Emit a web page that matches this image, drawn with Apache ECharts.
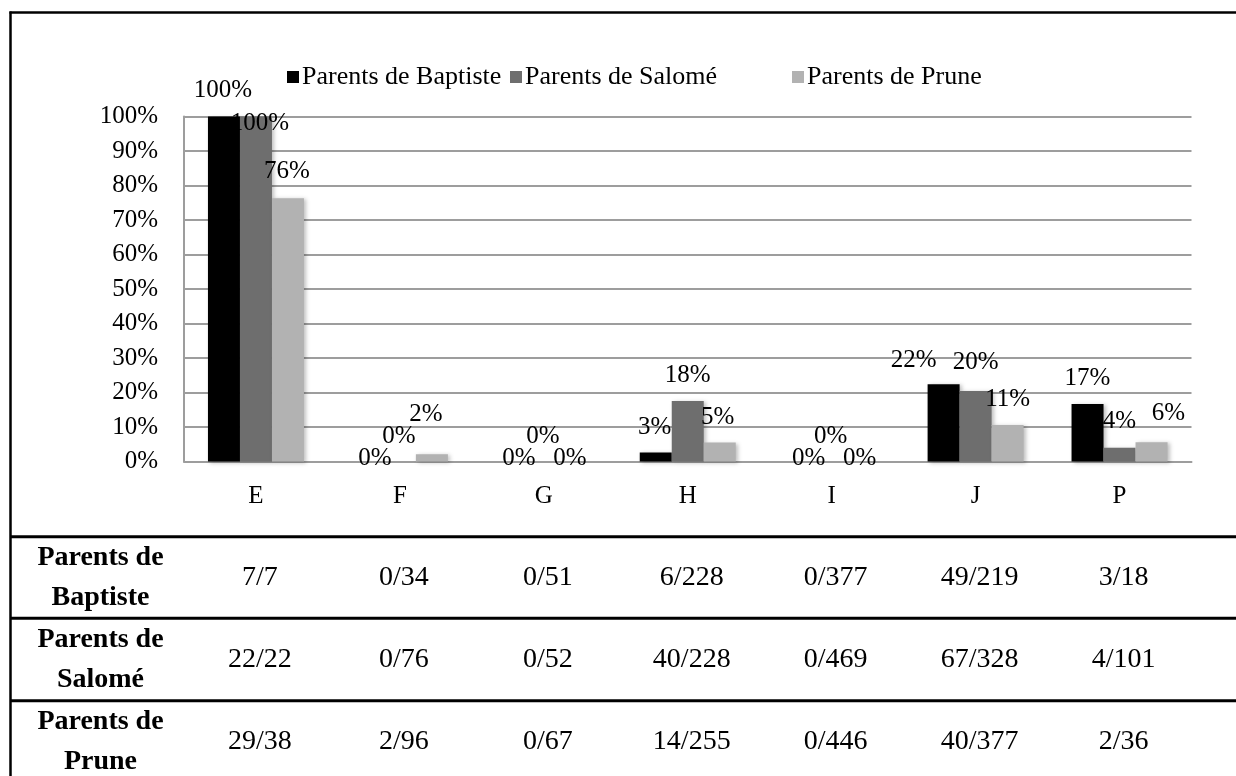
<!DOCTYPE html>
<html><head><meta charset="utf-8">
<script src="https://cdn.jsdelivr.net/npm/echarts@6/dist/echarts.min.js"></script>
<style>html,body{margin:0;padding:0;background:#fff}#c{width:1236px;height:776px}</style>
</head><body><div id="c"></div>
<script>
// ---- data ----
const categories = ['E', 'F', 'G', 'H', 'I', 'J', 'P'];
const seriesNames = ['Parents de Baptiste', 'Parents de Salomé', 'Parents de Prune'];
const baptiste = [100, 0, 0, 2.63, 0, 22.37, 16.67];
const salome = [100, 0, 0, 17.54, 0, 20.43, 3.96];
const prune = [76.32, 2.08, 0, 5.49, 0, 10.61, 5.56];
const rowHeaders = ['Parents de\nBaptiste', 'Parents de\nSalomé', 'Parents de\nPrune'];
const tableBaptiste = ['7/7', '0/34', '0/51', '6/228', '0/377', '49/219', '3/18'];
const tableSalome = ['22/22', '0/76', '0/52', '40/228', '0/469', '67/328', '4/101'];
const tablePrune = ['29/38', '2/96', '0/67', '14/255', '0/446', '40/377', '2/36'];

// ---- styling ----
const FONT = '"Liberation Serif", "Times New Roman", serif';
const colors = ['#000000', '#6e6e6e', '#b2b2b2'];
const labelOffsets = [
  [[-1, -1], [7, 22], [7, 22], [-1, 0], [9, 22], [-30, 1], [0, -1]],
  [[4, 32], [-1, 0], [-1, 0], [0, -1], [-1, 0], [0, -4], [0, -1]],
  [[-1, -2], [-6, -15], [-6, 22], [-2, 0], [-4, 22], [0, 0], [17, -4]]
];
const legendLeft = [287, 510, 792];
const seriesData = [baptiste, salome, prune];
const tableRows = [tableBaptiste, tableSalome, tablePrune];

const chart = echarts.init(document.getElementById('c'), null, { renderer: 'canvas' });

const series = seriesData.map((d, si) => ({
  name: seriesNames[si],
  type: 'bar',
  barWidth: 32,
  barGap: '0%',
  itemStyle: { color: colors[si], shadowBlur: 4, shadowColor: 'rgba(0,0,0,0.25)', shadowOffsetX: 2, shadowOffsetY: 1 },
  label: {
    show: true, position: 'top', distance: 12.5,
    fontFamily: FONT, fontSize: 25, lineHeight: 25, color: '#000',
    formatter: p => Math.round(p.value) + '%'
  },
  data: d.map((v, ci) => ({ value: v, label: { offset: labelOffsets[si][ci] } }))
}));

chart.setOption({
  animation: false,
  backgroundColor: '#fff',
  grid: { left: 184, right: 44.5, top: 116.5, bottom: 314.5 },
  legend: seriesNames.map((n, i) => ({
    data: [n], left: legendLeft[i], top: 64, padding: 0, icon: 'rect', itemWidth: 12, itemHeight: 12,
    selectedMode: false,
    textStyle: { fontFamily: FONT, fontSize: 26, color: '#000', padding: [0, 0, 0, -2] }
  })),
  xAxis: {
    type: 'category', data: categories,
    axisLine: { lineStyle: { color: '#9d9d9d', width: 2 } },
    axisTick: { show: false },
    axisLabel: { margin: 22, fontFamily: FONT, fontSize: 25, color: '#000' }
  },
  yAxis: {
    type: 'value', min: 0, max: 100, interval: 10,
    axisLine: { show: true, lineStyle: { color: '#9d9d9d', width: 2 } },
    axisTick: { show: false },
    splitLine: { lineStyle: { color: '#9d9d9d', width: 2 } },
    axisLabel: { margin: 26, formatter: '{value}%', fontFamily: FONT, fontSize: 25, color: '#000' }
  },
  series: series
});

// ---- table and frame ----
const rowTops = [536.7, 618.3, 700.7];
const rowH = 82.3;
const g = [];
const line = (x1, y1, x2, y2, w) => ({
  type: 'line', shape: { x1, y1, x2, y2 }, style: { stroke: '#000', lineWidth: w }, silent: true
});
g.push(line(9.5, 12.5, 1236, 12.5, 2.5));
g.push(line(10.5, 11.5, 10.5, 776, 2.5));
rowTops.forEach(y => g.push(line(10, y, 1236, y, 3)));
rowTops.forEach((top, ri) => {
  const cy = top + rowH / 2;
  g.push({
    type: 'text', x: 100.5, y: cy, silent: true,
    style: { text: rowHeaders[ri], align: 'center', verticalAlign: 'middle', fontFamily: FONT, fontWeight: 'bold', fontSize: 28, lineHeight: 40, fill: '#000' }
  });
  categories.forEach((c, ci) => {
    const x = chart.convertToPixel({ xAxisIndex: 0 }, c) + 4;
    g.push({
      type: 'text', x: x, y: cy, silent: true,
      style: { text: tableRows[ri][ci], align: 'center', verticalAlign: 'middle', fontFamily: FONT, fontSize: 28, fill: '#000' }
    });
  });
});
chart.setOption({ graphic: g });
</script>
</body></html>
